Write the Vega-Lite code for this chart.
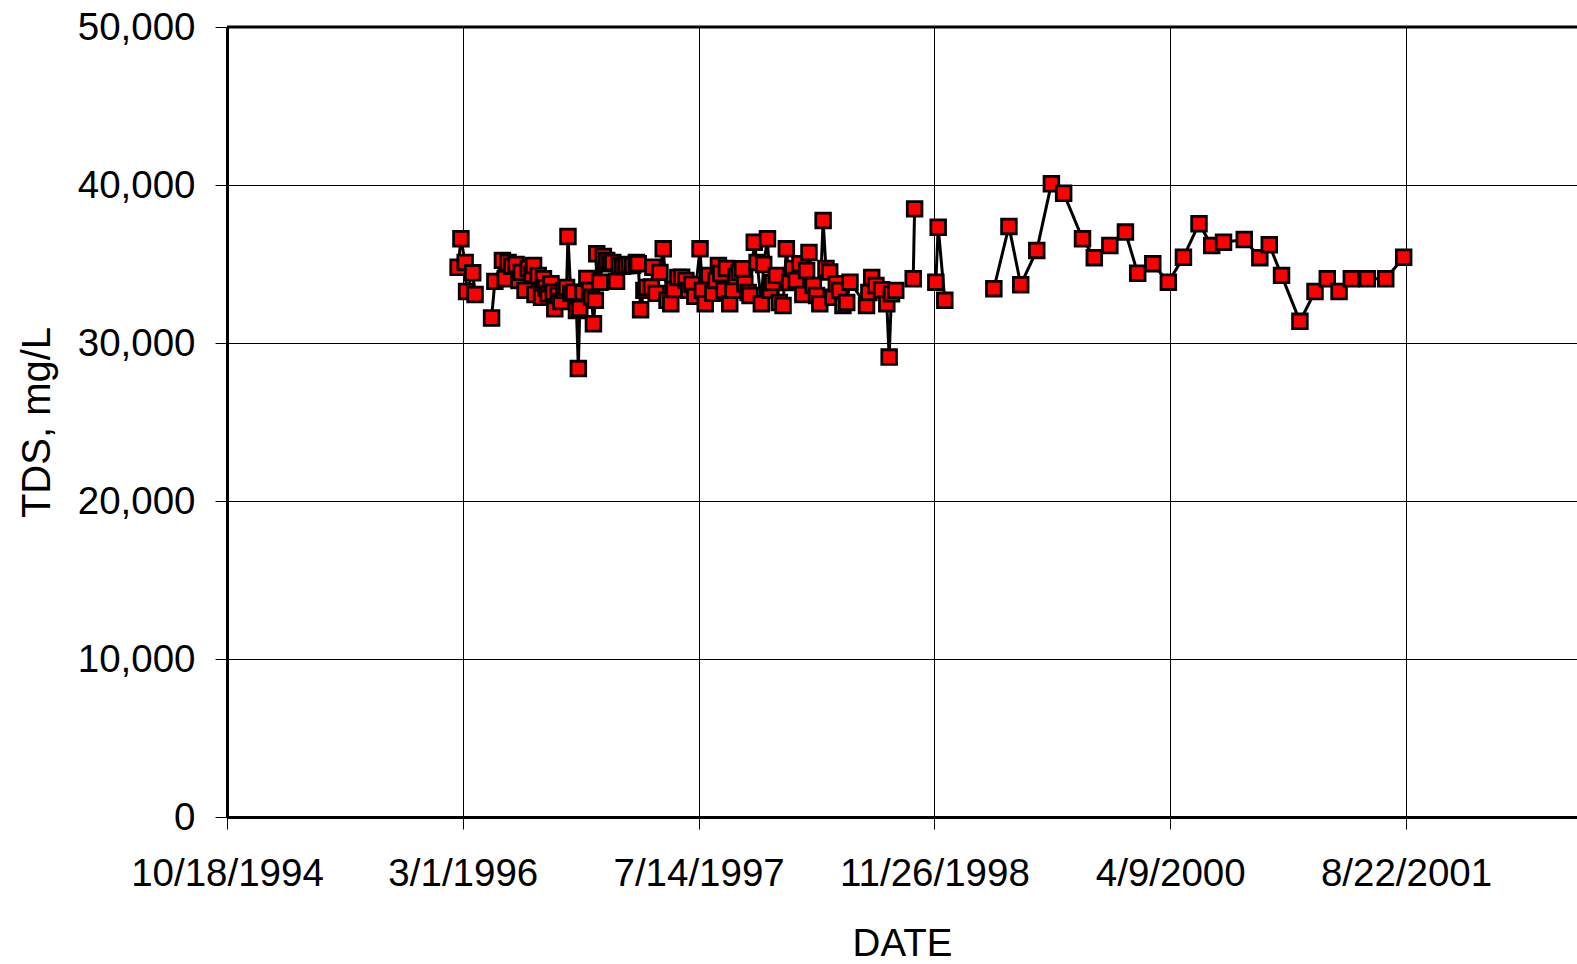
{
  "$schema": "https://vega.github.io/schema/vega-lite/v6.json",
  "width": 1350,
  "height": 790,
  "autosize": {"type": "none"},
  "padding": {"left": 227, "top": 27, "right": 0, "bottom": 147},
  "background": "white",
  "data": {
    "values": [
      {"date": "1996-02-20", "tds": 34800, "seg": 1},
      {"date": "1996-02-26", "tds": 36600, "seg": 1},
      {"date": "1996-03-06", "tds": 35100, "seg": 1},
      {"date": "1996-03-09", "tds": 33260, "seg": 1},
      {"date": "1996-03-22", "tds": 34440, "seg": 1},
      {"date": "1996-03-27", "tds": 33070, "seg": 1},
      {"date": "1996-05-01", "tds": 31580, "seg": 2},
      {"date": "1996-05-08", "tds": 33900, "seg": 2},
      {"date": "1996-05-24", "tds": 35230, "seg": 2},
      {"date": "1996-05-30", "tds": 34070, "seg": 2},
      {"date": "1996-06-05", "tds": 35100, "seg": 2},
      {"date": "1996-06-13", "tds": 34850, "seg": 2},
      {"date": "1996-06-22", "tds": 34970, "seg": 2},
      {"date": "1996-06-28", "tds": 33960, "seg": 2},
      {"date": "1996-07-03", "tds": 34470, "seg": 2},
      {"date": "1996-07-11", "tds": 33330, "seg": 2},
      {"date": "1996-07-18", "tds": 34720, "seg": 2},
      {"date": "1996-07-26", "tds": 34340, "seg": 2},
      {"date": "1996-07-29", "tds": 34910, "seg": 2},
      {"date": "1996-08-01", "tds": 33070, "seg": 2},
      {"date": "1996-08-08", "tds": 34280, "seg": 2},
      {"date": "1996-08-15", "tds": 32890, "seg": 2},
      {"date": "1996-08-19", "tds": 34070, "seg": 2},
      {"date": "1996-08-24", "tds": 33500, "seg": 2},
      {"date": "1996-08-29", "tds": 33120, "seg": 2},
      {"date": "1996-09-04", "tds": 33750, "seg": 2},
      {"date": "1996-09-09", "tds": 33220, "seg": 2},
      {"date": "1996-09-12", "tds": 32170, "seg": 2},
      {"date": "1996-09-19", "tds": 33010, "seg": 2},
      {"date": "1996-09-25", "tds": 32630, "seg": 2},
      {"date": "1996-10-01", "tds": 33330, "seg": 2},
      {"date": "1996-10-07", "tds": 33520, "seg": 2},
      {"date": "1996-10-10", "tds": 36740, "seg": 2},
      {"date": "1996-10-16", "tds": 33140, "seg": 2},
      {"date": "1996-10-22", "tds": 33220, "seg": 2},
      {"date": "1996-10-28", "tds": 32060, "seg": 2},
      {"date": "1996-11-01", "tds": 28380, "seg": 2},
      {"date": "1996-11-04", "tds": 32190, "seg": 2},
      {"date": "1996-11-11", "tds": 33200, "seg": 2},
      {"date": "1996-11-19", "tds": 34090, "seg": 2},
      {"date": "1996-11-25", "tds": 33330, "seg": 2},
      {"date": "1996-11-29", "tds": 32890, "seg": 2},
      {"date": "1996-12-03", "tds": 31220, "seg": 2},
      {"date": "1996-12-07", "tds": 32700, "seg": 2},
      {"date": "1996-12-10", "tds": 35650, "seg": 2},
      {"date": "1996-12-17", "tds": 33850, "seg": 2},
      {"date": "1996-12-24", "tds": 35480, "seg": 2},
      {"date": "1996-12-31", "tds": 35230, "seg": 2},
      {"date": "1997-01-07", "tds": 35020, "seg": 2},
      {"date": "1997-01-13", "tds": 35100, "seg": 2},
      {"date": "1997-01-21", "tds": 33900, "seg": 2},
      {"date": "1997-01-27", "tds": 34910, "seg": 2},
      {"date": "1997-02-03", "tds": 34850, "seg": 2},
      {"date": "1997-02-10", "tds": 34910, "seg": 2},
      {"date": "1997-02-17", "tds": 34970, "seg": 2},
      {"date": "1997-02-24", "tds": 34910, "seg": 2},
      {"date": "1997-03-04", "tds": 35100, "seg": 2},
      {"date": "1997-03-08", "tds": 35020, "seg": 2},
      {"date": "1997-03-13", "tds": 32110, "seg": 2},
      {"date": "1997-03-20", "tds": 33330, "seg": 2},
      {"date": "1997-03-26", "tds": 33520, "seg": 2},
      {"date": "1997-04-05", "tds": 33540, "seg": 2},
      {"date": "1997-04-08", "tds": 34800, "seg": 2},
      {"date": "1997-04-15", "tds": 33140, "seg": 2},
      {"date": "1997-04-23", "tds": 34470, "seg": 2},
      {"date": "1997-04-30", "tds": 35960, "seg": 2},
      {"date": "1997-05-08", "tds": 32700, "seg": 2},
      {"date": "1997-05-16", "tds": 32490, "seg": 2},
      {"date": "1997-05-23", "tds": 33390, "seg": 2},
      {"date": "1997-05-31", "tds": 34150, "seg": 2},
      {"date": "1997-06-08", "tds": 34170, "seg": 2},
      {"date": "1997-06-17", "tds": 33960, "seg": 2},
      {"date": "1997-06-23", "tds": 33330, "seg": 2},
      {"date": "1997-06-30", "tds": 33710, "seg": 2},
      {"date": "1997-07-06", "tds": 32950, "seg": 2},
      {"date": "1997-07-17", "tds": 35960, "seg": 2},
      {"date": "1997-07-22", "tds": 33330, "seg": 2},
      {"date": "1997-07-28", "tds": 32490, "seg": 2},
      {"date": "1997-08-05", "tds": 34280, "seg": 2},
      {"date": "1997-08-13", "tds": 33140, "seg": 2},
      {"date": "1997-08-20", "tds": 33960, "seg": 2},
      {"date": "1997-08-25", "tds": 34910, "seg": 2},
      {"date": "1997-08-30", "tds": 34400, "seg": 2},
      {"date": "1997-09-06", "tds": 33330, "seg": 2},
      {"date": "1997-09-11", "tds": 34720, "seg": 2},
      {"date": "1997-09-18", "tds": 32490, "seg": 2},
      {"date": "1997-09-25", "tds": 33330, "seg": 2},
      {"date": "1997-10-01", "tds": 34210, "seg": 2},
      {"date": "1997-10-08", "tds": 34470, "seg": 2},
      {"date": "1997-10-15", "tds": 34700, "seg": 2},
      {"date": "1997-10-20", "tds": 33750, "seg": 2},
      {"date": "1997-10-27", "tds": 33200, "seg": 2},
      {"date": "1997-10-31", "tds": 33010, "seg": 2},
      {"date": "1997-11-09", "tds": 36380, "seg": 2},
      {"date": "1997-11-15", "tds": 35100, "seg": 2},
      {"date": "1997-11-24", "tds": 32490, "seg": 2},
      {"date": "1997-11-29", "tds": 34970, "seg": 2},
      {"date": "1997-12-07", "tds": 36600, "seg": 2},
      {"date": "1997-12-13", "tds": 33330, "seg": 2},
      {"date": "1997-12-18", "tds": 33830, "seg": 2},
      {"date": "1997-12-26", "tds": 34280, "seg": 2},
      {"date": "1998-01-01", "tds": 32570, "seg": 2},
      {"date": "1998-01-09", "tds": 32380, "seg": 2},
      {"date": "1998-01-16", "tds": 35960, "seg": 2},
      {"date": "1998-01-23", "tds": 33830, "seg": 2},
      {"date": "1998-01-30", "tds": 34720, "seg": 2},
      {"date": "1998-02-06", "tds": 33960, "seg": 2},
      {"date": "1998-02-14", "tds": 35020, "seg": 2},
      {"date": "1998-02-20", "tds": 33070, "seg": 2},
      {"date": "1998-02-28", "tds": 34590, "seg": 2},
      {"date": "1998-03-05", "tds": 35730, "seg": 2},
      {"date": "1998-03-14", "tds": 33640, "seg": 2},
      {"date": "1998-03-21", "tds": 33010, "seg": 2},
      {"date": "1998-03-28", "tds": 32490, "seg": 2},
      {"date": "1998-04-04", "tds": 37750, "seg": 2},
      {"date": "1998-04-10", "tds": 34720, "seg": 2},
      {"date": "1998-04-18", "tds": 34490, "seg": 2},
      {"date": "1998-04-25", "tds": 32890, "seg": 2},
      {"date": "1998-05-02", "tds": 33750, "seg": 2},
      {"date": "1998-05-09", "tds": 33330, "seg": 2},
      {"date": "1998-05-16", "tds": 32380, "seg": 2},
      {"date": "1998-05-24", "tds": 32570, "seg": 2},
      {"date": "1998-05-31", "tds": 33850, "seg": 2},
      {"date": "1998-07-05", "tds": 32380, "seg": 2},
      {"date": "1998-07-10", "tds": 33200, "seg": 2},
      {"date": "1998-07-16", "tds": 34150, "seg": 2},
      {"date": "1998-07-25", "tds": 33640, "seg": 2},
      {"date": "1998-08-06", "tds": 33370, "seg": 2},
      {"date": "1998-08-17", "tds": 32490, "seg": 2},
      {"date": "1998-08-22", "tds": 29110, "seg": 2},
      {"date": "1998-08-27", "tds": 33120, "seg": 2},
      {"date": "1998-09-05", "tds": 33330, "seg": 2},
      {"date": "1998-10-12", "tds": 34070, "seg": 3},
      {"date": "1998-10-15", "tds": 38490, "seg": 3},
      {"date": "1998-11-29", "tds": 33850, "seg": 4},
      {"date": "1998-12-04", "tds": 37330, "seg": 4},
      {"date": "1998-12-18", "tds": 32700, "seg": 4},
      {"date": "1999-04-01", "tds": 33440, "seg": 5},
      {"date": "1999-05-03", "tds": 37380, "seg": 5},
      {"date": "1999-05-28", "tds": 33690, "seg": 5},
      {"date": "1999-07-01", "tds": 35860, "seg": 5},
      {"date": "1999-08-01", "tds": 40080, "seg": 5},
      {"date": "1999-08-27", "tds": 39480, "seg": 5},
      {"date": "1999-10-06", "tds": 36600, "seg": 5},
      {"date": "1999-10-31", "tds": 35400, "seg": 5},
      {"date": "1999-12-03", "tds": 36170, "seg": 5},
      {"date": "2000-01-05", "tds": 37020, "seg": 5},
      {"date": "2000-01-31", "tds": 34420, "seg": 5},
      {"date": "2000-03-03", "tds": 35020, "seg": 5},
      {"date": "2000-04-05", "tds": 33850, "seg": 5},
      {"date": "2000-05-07", "tds": 35430, "seg": 5},
      {"date": "2000-06-09", "tds": 37550, "seg": 5},
      {"date": "2000-07-06", "tds": 36170, "seg": 5},
      {"date": "2000-07-31", "tds": 36380, "seg": 5},
      {"date": "2000-09-13", "tds": 36550, "seg": 5},
      {"date": "2000-10-16", "tds": 35400, "seg": 5},
      {"date": "2000-11-05", "tds": 36220, "seg": 5},
      {"date": "2000-12-01", "tds": 34280, "seg": 5},
      {"date": "2001-01-09", "tds": 31370, "seg": 5},
      {"date": "2001-02-10", "tds": 33260, "seg": 5},
      {"date": "2001-03-08", "tds": 34070, "seg": 5},
      {"date": "2001-04-02", "tds": 33260, "seg": 5},
      {"date": "2001-04-28", "tds": 34070, "seg": 5},
      {"date": "2001-06-01", "tds": 34070, "seg": 5},
      {"date": "2001-07-10", "tds": 34070, "seg": 5},
      {"date": "2001-08-17", "tds": 35430, "seg": 5}
    ]
  },
  "layer": [
    {
      "mark": {"type": "line", "color": "#000000", "strokeWidth": 3},
      "encoding": {
        "x": {
          "field": "date", "type": "temporal",
          "scale": {"type": "utc", "nice": false, "domain": [{"year": 1994, "month": 10, "date": 18, "utc": true}, {"year": 2002, "month": 8, "date": 19, "hours": 12, "utc": true}]},
          "axis": {
            "title": "DATE",
            "values": [
              {"year": 1994, "month": 10, "date": 18, "utc": true},
              {"year": 1996, "month": 3, "date": 1, "utc": true},
              {"year": 1997, "month": 7, "date": 14, "utc": true},
              {"year": 1998, "month": 11, "date": 26, "utc": true},
              {"year": 2000, "month": 4, "date": 9, "utc": true},
              {"year": 2001, "month": 8, "date": 22, "utc": true}
            ],
            "labelExpr": "utcFormat(datum.value, '%-m/%-d/%Y')",
            "labelLimit": 0,
            "labelPadding": 26, "titlePadding": 33, "labelOverlap": false, "labelFlush": false, "grid": true
          }
        },
        "y": {
          "field": "tds", "type": "quantitative",
          "scale": {"domain": [0, 50000], "nice": false, "zero": true},
          "axis": {"title": "TDS, mg/L", "titleFontSize": 40, "values": [0, 10000, 20000, 30000, 40000, 50000], "format": ",d", "labelLimit": 0, "labelPadding": 20, "titlePadding": 20, "grid": true}
        },
        "detail": {"field": "seg", "type": "nominal"}
      }
    },
    {
      "mark": {"type": "point", "shape": "square", "filled": true, "fill": "#ff0000", "stroke": "#000000", "strokeWidth": 2.8, "size": 215, "opacity": 1},
      "encoding": {
        "x": {"field": "date", "type": "temporal"},
        "y": {"field": "tds", "type": "quantitative"}
      }
    },
    {
      "data": {"values": [{}]},
      "mark": {"type": "rule", "color": "#000000", "strokeWidth": 3},
      "encoding": {"y": {"datum": 50000}}
    }
  ],
  "config": {
    "view": {"stroke": null},
    "axis": {
      "labelFont": "Liberation Sans", "titleFont": "Liberation Sans",
      "labelFontSize": 38.5, "titleFontSize": 38.5, "titleFontWeight": "normal",
      "labelColor": "#000000", "titleColor": "#000000",
      "gridColor": "#000000", "gridWidth": 1, "gridOpacity": 1,
      "domainColor": "#000000", "domainWidth": 3,
      "tickColor": "#000000", "tickWidth": 1, "tickSize": 12
    }
  }
}
